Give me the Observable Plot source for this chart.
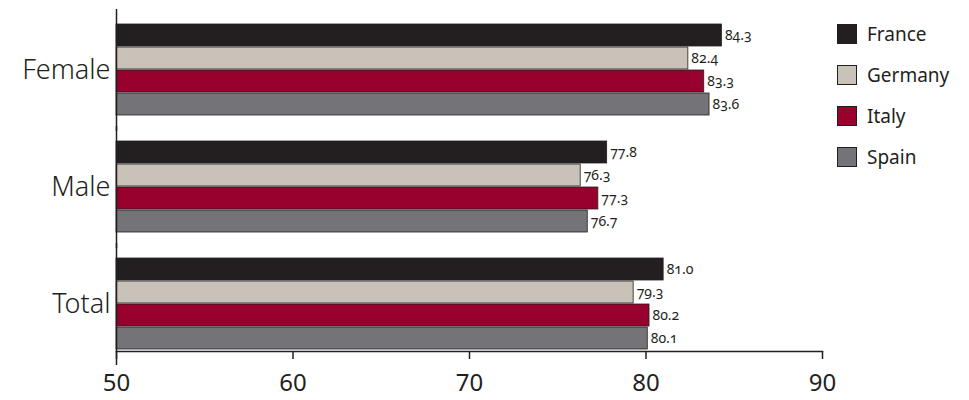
<!DOCTYPE html>
<html><head><meta charset="utf-8">
<script src="https://cdn.jsdelivr.net/npm/d3@7"></script>
<script src="https://cdn.jsdelivr.net/npm/@observablehq/plot@0.6"></script>
<style>
body{margin:0;background:#fff;font-family:"Noto Sans",sans-serif;}
#wrap{position:relative;width:969px;height:400px;}
#legend{position:absolute;left:837px;top:13px;font-size:19px;color:#231f20;}
#legend div{display:flex;align-items:center;height:41px;}
#legend span.sw{width:20px;height:20px;border:1px solid #231f20;margin-right:10px;box-sizing:border-box;}
</style></head><body>
<div id="wrap"><div id="legend"></div></div>
<script>
const groups = ["Female","Male","Total"];
const countries = ["France","Germany","Italy","Spain"];
const colors = ["#231f20","#c9c2b8","#98002e","#747378"];
const values = {
  France:[84.3,77.8,81.0],
  Germany:[82.4,76.3,79.3],
  Italy:[83.3,77.3,80.2],
  Spain:[83.6,76.7,80.1]
};
const ticks = [50,60,70,80,90];
const data = [];
groups.forEach((g,i)=>countries.forEach(c=>data.push({group:g,country:c,value:values[c][i]})));

const chart = Plot.plot({
  width:969, height:400,
  marginLeft:116, marginRight:147, marginTop:22, marginBottom:48,
  style:{fontFamily:"Noto Sans, sans-serif", fontVariantNumeric:"oldstyle-nums", color:"#231f20", overflow:"visible"},
  x:{domain:[50,90], ticks:ticks, label:null},
  fy:{domain:groups, paddingInner:0.2, paddingOuter:0, label:null},
  y:{domain:countries, padding:0.04, axis:null},
  color:{domain:countries, range:colors},
  marks:[
    Plot.barX(data,{fy:"group",y:"country",x1:50,x2:"value",fill:"country",stroke:"#231f20",strokeWidth:0.8}),
    Plot.text(data,{fy:"group",y:"country",x:"value",text:d=>d.value.toFixed(1),dx:3,textAnchor:"start",fontSize:14,fill:"#231f20"}),
    Plot.ruleX([50],{insetTop:-14,insetBottom:-14,stroke:"#231f20",strokeWidth:1.5}),
    Plot.frame({anchor:"bottom", fy:"Total", stroke:"#231f20", strokeWidth:1.5}),
    Plot.axisFy({anchor:"left",tickSize:0,fontSize:27,tickPadding:6,fontWeight:300}),
    Plot.axisX({ticks:ticks,fontSize:24,tickSize:8,tickPadding:14,strokeWidth:1.5})
  ]
});
document.getElementById("wrap").prepend(chart);
const lg=document.getElementById("legend");
countries.forEach((c,i)=>{const d=document.createElement("div");d.innerHTML=`<span class="sw" style="background:${colors[i]}"></span>${c}`;lg.appendChild(d);});
</script></body></html>
